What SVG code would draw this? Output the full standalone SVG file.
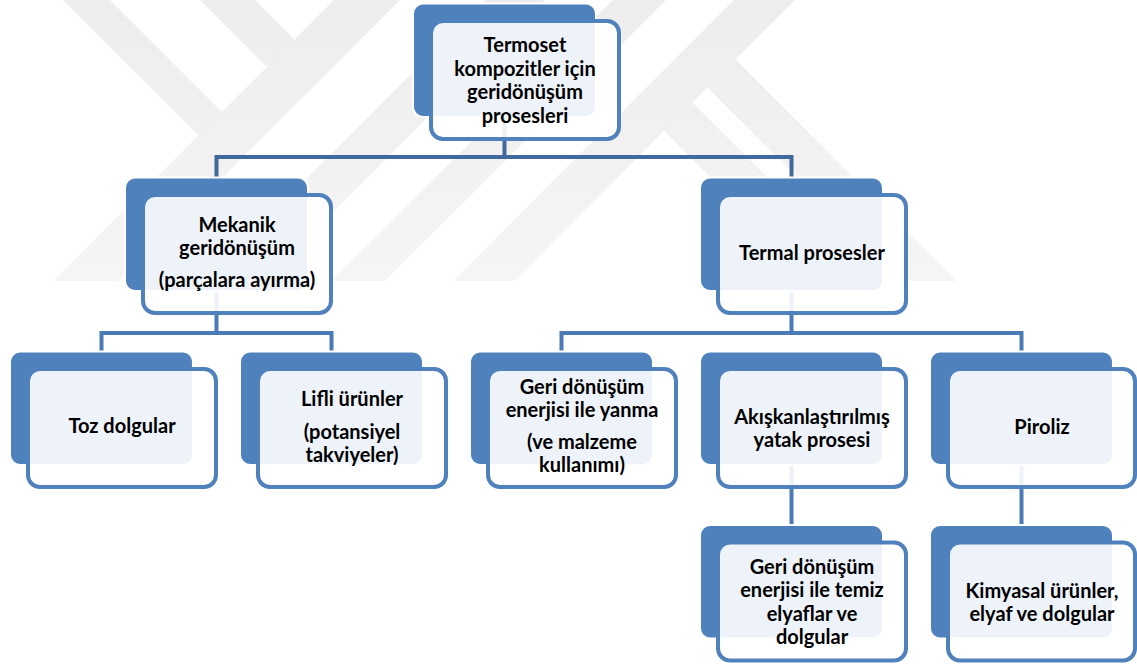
<svg xmlns="http://www.w3.org/2000/svg" width="1137" height="666" viewBox="0 0 1137 666">
<defs>
<style>
.wm{fill:url(#wmgrad);}
.bk{fill:#4f81bd;stroke:#ffffff;stroke-width:2;}
.fr{fill:#ffffff;fill-opacity:0.9;stroke:#4f81bd;stroke-width:4;}
.t{font-family:Lato,"Liberation Sans",sans-serif;font-weight:700;font-size:20px;fill:#000000;text-anchor:middle;}
.c1{stroke:#41699c;stroke-width:4;fill:none;}
.c2{stroke:#4a7bb7;stroke-width:4;fill:none;}
</style>
<linearGradient id="wmgrad" x1="0" y1="0" x2="0" y2="281" gradientUnits="userSpaceOnUse">
<stop offset="0" stop-color="#ededed"/>
<stop offset="1" stop-color="#f5f5f5"/>
</linearGradient>
<clipPath id="wmclip"><rect x="0" y="0" width="1137" height="281"/></clipPath>
</defs>
<rect x="0" y="0" width="1137" height="666" fill="#ffffff"/>
<g id="watermark" clip-path="url(#wmclip)">
<polygon class="wm" points="63,0 110,0 222,112 198.5,135.5"/>
<polygon class="wm" points="200,0 255,0 294.5,39.5 267,67"/>
<polygon class="wm" points="334,0 400,0 119,281 53,281"/>
<polygon class="wm" points="485,0 545,0 264,281 204,281"/>
<polygon class="wm" points="613,0 666,0 385,281 332,281"/>
<polygon class="wm" points="734,0 795,0 514,281 453,281"/>
<polygon class="wm" points="664,131 692.5,102.5 871,281 814,281"/>
<polygon class="wm" points="707.5,87.5 735.5,59.5 957,281 901,281"/>
</g>
<g id="connectors">
<path class="c1" d="M216.5,177 V157 H791.5 V177 M504.5,117 V157"/>
<path class="c2" d="M216.5,291 V333 M101.5,351 V333 H331.5 V351"/>
<path class="c2" d="M791.5,291 V333 M561.5,351 V333 H1021.5 V351"/>
<path class="c2" d="M791.5,465 V525"/>
<path class="c2" d="M1021.5,465 V525"/>
</g>
<g id="node-root">
<rect class="bk" x="413" y="3.5" width="183" height="113.5" rx="10"/>
<rect class="fr" x="431" y="21" width="188" height="118" rx="12"/>
<text class="t" x="525" y="52">Termoset</text>
<text class="t" x="525" y="75.5">kompozitler için</text>
<text class="t" x="525" y="99">geridönüşüm</text>
<text class="t" x="525" y="122.5">prosesleri</text>
</g>
<g id="node-mekanik">
<rect class="bk" x="125" y="177.5" width="183" height="113.5" rx="10"/>
<rect class="fr" x="143" y="195" width="188" height="118" rx="12"/>
<text class="t" x="237" y="231.5">Mekanik</text>
<text class="t" x="237" y="255">geridönüşüm</text>
<text class="t" x="237" y="287">(parçalara ayırma)</text>
</g>
<g id="node-termal">
<rect class="bk" x="700" y="177.5" width="183" height="113.5" rx="10"/>
<rect class="fr" x="718" y="195" width="188" height="118" rx="12"/>
<text class="t" x="812" y="260">Termal prosesler</text>
</g>
<g id="node-toz">
<rect class="bk" x="10" y="351.5" width="183" height="113.5" rx="10"/>
<rect class="fr" x="28" y="369" width="188" height="118" rx="12"/>
<text class="t" x="122" y="433">Toz dolgular</text>
</g>
<g id="node-lifli">
<rect class="bk" x="240" y="351.5" width="183" height="113.5" rx="10"/>
<rect class="fr" x="258" y="369" width="188" height="118" rx="12"/>
<text class="t" x="352" y="406">Lifli ürünler</text>
<text class="t" x="352" y="439">(potansiyel</text>
<text class="t" x="352" y="462">takviyeler)</text>
</g>
<g id="node-yanma">
<rect class="bk" x="470" y="351.5" width="183" height="113.5" rx="10"/>
<rect class="fr" x="488" y="369" width="188" height="118" rx="12"/>
<text class="t" x="582" y="394">Geri dönüşüm</text>
<text class="t" x="582" y="417">enerjisi ile yanma</text>
<text class="t" x="582" y="449">(ve malzeme</text>
<text class="t" x="582" y="472">kullanımı)</text>
</g>
<g id="node-akiskan">
<rect class="bk" x="700" y="351.5" width="183" height="113.5" rx="10"/>
<rect class="fr" x="718" y="369" width="188" height="118" rx="12"/>
<text class="t" x="812" y="424">Akışkanlaştırılmış</text>
<text class="t" x="812" y="447">yatak prosesi</text>
</g>
<g id="node-piroliz">
<rect class="bk" x="930" y="351.5" width="183" height="113.5" rx="10"/>
<rect class="fr" x="948" y="369" width="187" height="118" rx="12"/>
<text class="t" x="1042" y="434">Piroliz</text>
</g>
<g id="node-temiz">
<rect class="bk" x="700" y="525" width="183" height="113.5" rx="10"/>
<rect class="fr" x="718" y="542.5" width="188" height="118" rx="12"/>
<text class="t" x="812" y="573.5">Geri dönüşüm</text>
<text class="t" x="812" y="597">enerjisi ile temiz</text>
<text class="t" x="812" y="620.5">elyaflar ve</text>
<text class="t" x="812" y="644">dolgular</text>
</g>
<g id="node-kimyasal">
<rect class="bk" x="930" y="525" width="183" height="113.5" rx="10"/>
<rect class="fr" x="948" y="542.5" width="187" height="118" rx="12"/>
<text class="t" x="1042" y="598">Kimyasal ürünler,</text>
<text class="t" x="1042" y="621">elyaf ve dolgular</text>
</g>
</svg>
